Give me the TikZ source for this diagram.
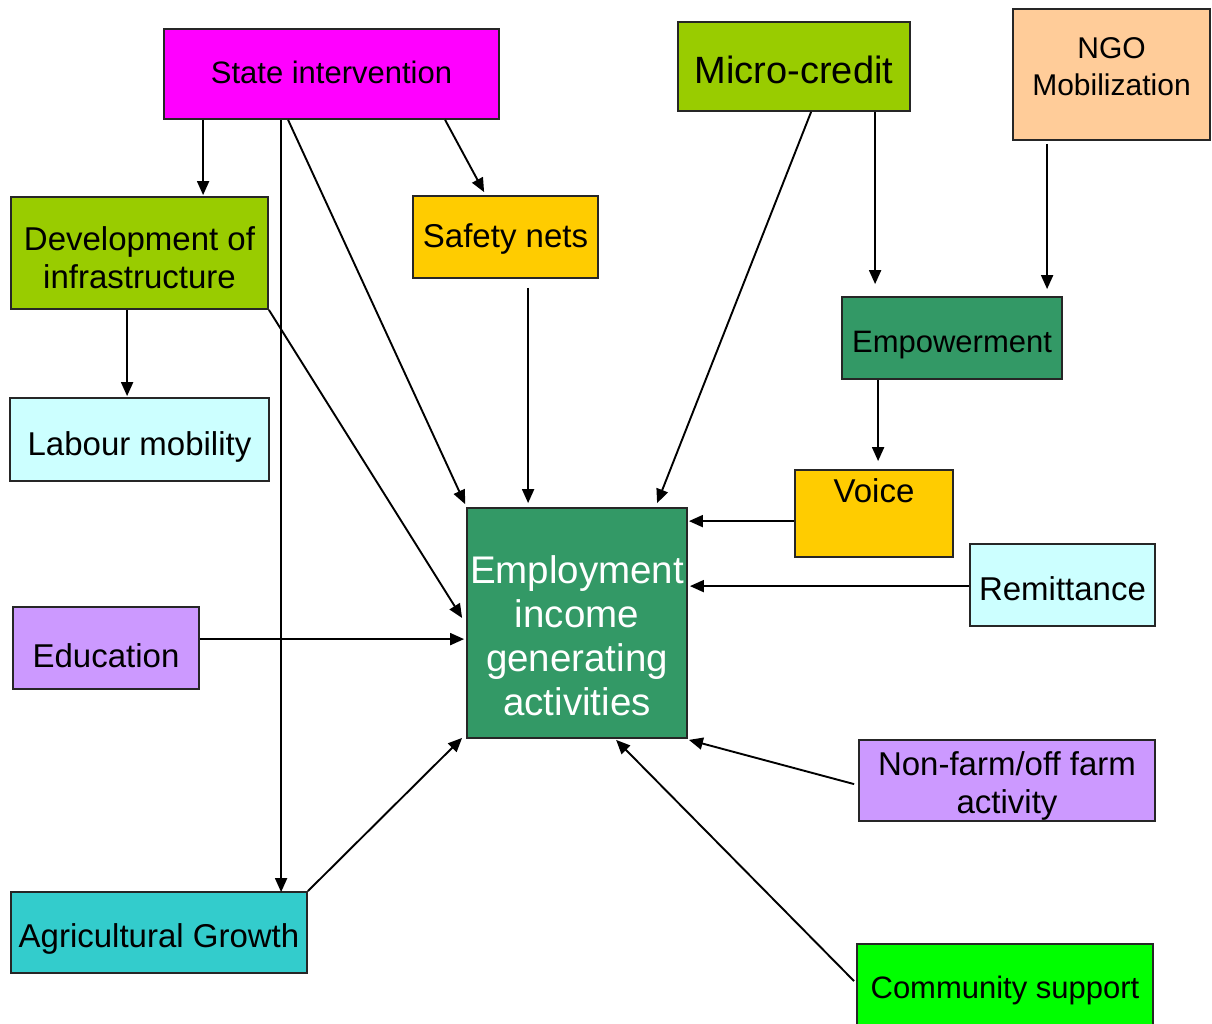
\documentclass[tikz,border=0pt]{standalone}
\usepackage{fontspec}
\setmainfont{Liberation Sans}
\usetikzlibrary{arrows.meta,calc}
\newcommand\myfs[2]{\fontsize{#1}{#2}\selectfont}
\definecolor{cMag}{HTML}{FF00FF}
\definecolor{cLime}{HTML}{99CC00}
\definecolor{cPeach}{HTML}{FFCC99}
\definecolor{cGold}{HTML}{FFCC00}
\definecolor{cSea}{HTML}{339966}
\definecolor{cCyan}{HTML}{CCFFFF}
\definecolor{cLav}{HTML}{CC99FF}
\definecolor{cTeal}{HTML}{33CCCC}
\definecolor{cGreen}{HTML}{00FF00}
\begin{document}
\begin{tikzpicture}[x=1pt,y=-1pt,
  box/.style={draw=black!85, line width=1.8pt, inner sep=0pt, rectangle, text depth=0pt},
  arr/.style={line width=1.9pt, -{Triangle[length=14pt,width=12pt]}},
  lbl/.style={font=\myfs{33}{38}, align=center}]
\clip (0,0) rectangle (1212,1023);
\fill[white] (0,0) rectangle (1212,1023);

% nodes
\node[box, fill=cMag, minimum width=335pt, minimum height=90pt, font=\myfs{31}{36}, text height=19.2pt] (state) at (331.5,74) {State intervention};
\node[box, fill=cLime, minimum width=232pt, minimum height=89pt, font=\myfs{38}{44}, text height=34.2pt] (micro) at (794,66.5) {Micro-credit};
\node[box, fill=cPeach, minimum width=197pt, minimum height=131pt,
  label={[font=\myfs{30}{37}, align=center, yshift=8pt]center:{NGO\\Mobilization}}] (ngo) at (1111.5,74.5) {};
\node[box, fill=cLime, minimum width=257pt, minimum height=112pt,
  label={[lbl, yshift=-5pt]center:{Development of\\infrastructure}}] (dev) at (139.5,253) {};
\node[box, fill=cGold, minimum width=185pt, minimum height=82pt, font=\myfs{33}{38}, text height=21.6pt] (safety) at (505.5,237) {Safety nets};
\node[box, fill=cSea, minimum width=220pt, minimum height=82pt, font=\myfs{31}{36}, text height=28.2pt] (empow) at (952,338) {Empowerment};
\node[box, fill=cCyan, minimum width=259pt, minimum height=83pt, font=\myfs{33}{38}, text height=32.6pt] (labour) at (139.5,439.5) {Labour mobility};
\node[box, fill=cGold, minimum width=158pt, minimum height=87pt, font=\myfs{33}{38}, text height=23.6pt, text depth=45pt] (voice) at (874,513.5) {Voice};
\node[box, fill=cSea, minimum width=220pt, minimum height=230pt,
  label={[font=\myfs{38.5}{44}, align=center, text=white, yshift=-12.5pt]center:{Employment\\income\\generating\\activities}}] (employ) at (577,623) {};
\node[box, fill=cCyan, minimum width=185pt, minimum height=82pt, font=\myfs{33}{38}, text height=31.6pt] (remit) at (1062.5,585) {Remittance};
\node[box, fill=cLav, minimum width=186pt, minimum height=82pt, font=\myfs{33}{38}, text height=39.6pt] (edu) at (106,648) {Education};
\node[box, fill=cLav, minimum width=296pt, minimum height=81pt,
  label={[lbl, yshift=-5pt]center:{Non-farm/off farm\\activity}}] (nonfarm) at (1007,780.5) {};
\node[box, fill=cTeal, minimum width=296pt, minimum height=81pt, font=\myfs{33}{38}, text height=29.6pt] (agri) at (159,932.5) {Agricultural Growth};
\node[box, fill=cGreen, minimum width=296pt, minimum height=86pt, font=\myfs{31}{36}, text height=22pt] (comm) at (1005,987) {Community support};

% connectors
\draw[arr] ($(state.south west)+(40,0)$) -- ($(dev.north west)+(193,-1)$);
\draw[arr] ($(state.south west)+(282,0)$) -- ($(safety.north west)+(72,-3)$);
\draw[arr] ($(state.south west)+(125,0)$) -- ($(employ.north west)+(-1,-3)$);
\draw[arr] ($(state.south west)+(118,0)$) -- ($(agri.north west)+(271,1)$);
\draw[arr] (dev.south east) -- ($(employ.west)+(-4,-5)$);
\draw[arr] ($(dev.south west)+(117,0)$) -- ($(labour.north west)+(118,-1)$);
\draw[arr] ($(safety.south west)+(116,9)$) -- ($(employ.north west)+(62,-4)$);
\draw[arr] ($(micro.south west)+(134,0)$) -- ($(employ.north west)+(191,-4)$);
\draw[arr] ($(micro.south west)+(198,0)$) -- ($(empow.north west)+(34,-12)$);
\draw[arr] ($(ngo.south west)+(35,3)$) -- ($(empow.north west)+(206,-7)$);
\draw[arr] ($(empow.south west)+(37,0)$) -- ($(voice.north west)+(84,-8)$);
\draw[arr] ($(voice.north west)+(0,52)$) -- ($(employ.north east)+(1,14)$);
\draw[arr] ($(remit.north west)+(0,43)$) -- ($(employ.north east)+(2,79)$);
\draw[arr] ($(edu.north east)+(0,33)$) -- ($(employ.north west)+(-2,132)$);
\draw[arr] (agri.north east) -- ($(employ.south west)+(-4,-1)$);
\draw[arr] ($(nonfarm.north west)+(-4,45)$) -- ($(employ.south east)+(1,1)$);
\draw[arr] ($(comm.north west)+(-2,38)$) -- ($(employ.south west)+(150,1)$);
\end{tikzpicture}
\end{document}
